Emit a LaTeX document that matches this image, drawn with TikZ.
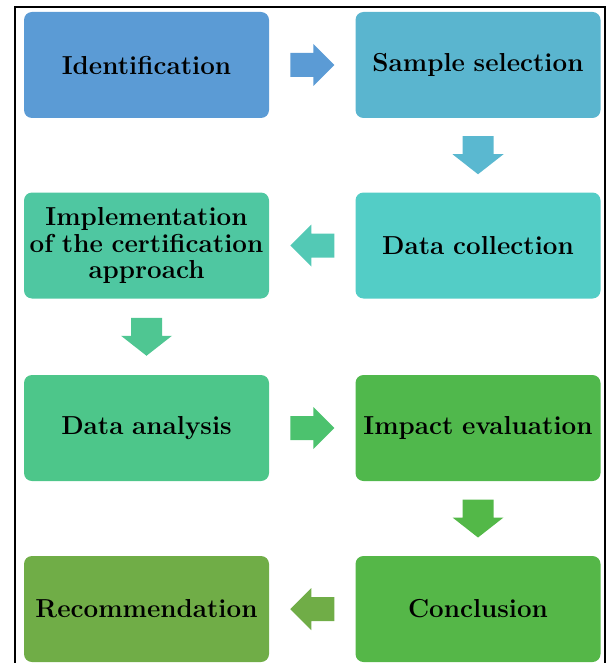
\documentclass[tikz,border=0pt]{standalone}
\usetikzlibrary{calc}
\begin{document}
\begin{tikzpicture}[x=1pt,y=-1pt,
  stepbox/.style={rounded corners=8pt, minimum width=245pt, minimum height=106pt,
    inner sep=0pt, align=center, font=\fontsize{26}{26.5}\selectfont\bfseries,
    text width=240pt},
  pics/harrow/.style={code={
    \fill[#1] (-22,-12) -- (1,-12) -- (1,-21) -- (22,0) -- (1,21) -- (1,12) -- (-22,12) -- cycle;}},
  pics/varrow/.style={code={
    \fill[#1] (-15.5,-19) -- (15.5,-19) -- (15.5,-1) -- (25.5,-1) -- (0,19) -- (-25.5,-1) -- (-15.5,-1) -- cycle;}},
]
\definecolor{cA}{HTML}{5B9BD5}
\definecolor{cB}{HTML}{5AB5CF}
\definecolor{cC}{HTML}{53CDC6}
\definecolor{cD}{HTML}{4FC7A1}
\definecolor{cE}{HTML}{4DC68A}
\definecolor{cF}{HTML}{50B84C}
\definecolor{cG}{HTML}{55B748}
\definecolor{cH}{HTML}{70AD47}
\definecolor{aB}{HTML}{5AB8D0}
\definecolor{aC}{HTML}{53C9B5}
\definecolor{aD}{HTML}{4FC692}
\definecolor{aE}{HTML}{4CC26E}
\definecolor{aG}{HTML}{53B848}

\useasboundingbox (0,0) rectangle (609,663);
% open frame
\draw[line width=2pt] (15,663) -- (15,7) -- (605,7) -- (605,663);

% process steps
\node[stepbox, fill=cA] (ident)  at (146.5,65)  {Identification};
\node[stepbox, fill=cB] (sample) at (478,65)    {Sample selection};
\node[stepbox, fill=cC] (collect) at (478,245.5) {Data collection};
\node[stepbox, fill=cD] (impl)   at (146.5,245.5) {Implementation\\of the certification\\approach};
\node[stepbox, fill=cE] (analysis) at (146.5,428) {Data analysis};
\node[stepbox, fill=cF] (impact) at (478,428)   {Impact evaluation};
\node[stepbox, fill=cG] (concl)  at (478,609)   {Conclusion};
\node[stepbox, fill=cH] (recom)  at (146.5,609) {Recommendation};

% block arrows between steps
\pic at ($(ident.east)!0.5!(sample.west)$) {harrow=cA};
\pic at ($(sample.south)!0.5!(collect.north)$) {varrow=aB};
\pic[xscale=-1] at ($(collect.west)!0.5!(impl.east)$) {harrow=aC};
\pic at ($(impl.south)!0.5!(analysis.north)$) {varrow=aD};
\pic at ($(analysis.east)!0.5!(impact.west)$) {harrow=aE};
\pic at ($(impact.south)!0.5!(concl.north)$) {varrow=aG};
\pic[xscale=-1] at ($(concl.west)!0.5!(recom.east)$) {harrow=cH};
\end{tikzpicture}
\end{document}
